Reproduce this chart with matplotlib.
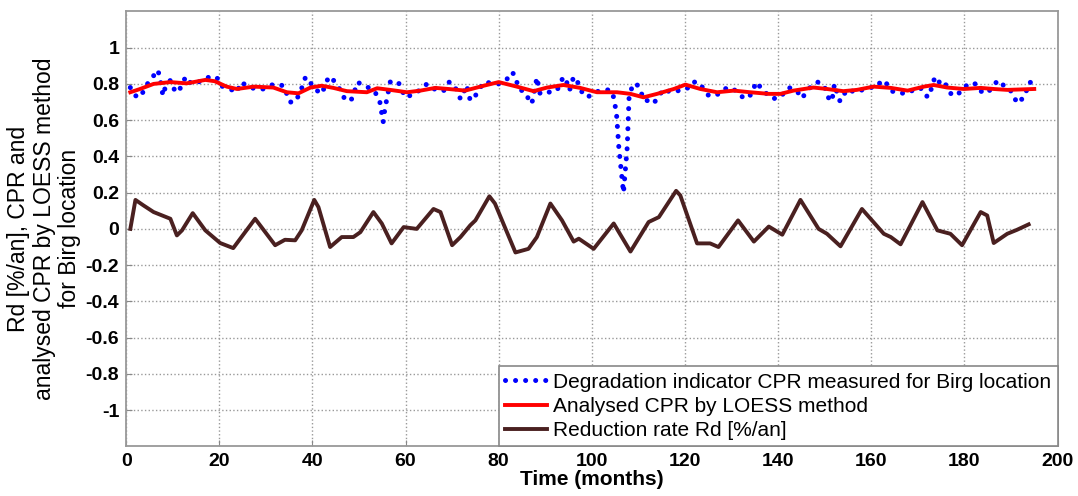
import numpy as np
from matplotlib import pyplot as plt

plt.rcParams['font.family'] = ['Liberation Sans', 'DejaVu Sans']

# measured CPR (blue dotted)
cpr_t = [0.9, 2, 3, 4.8, 5.9, 6.8, 7.3, 7.9, 8.4, 9.5, 10.5, 11.2, 12.8, 14, 15.5, 18, 19.5,
         20.2, 21.6, 23.8, 24.7, 25.9, 27.7, 29.5, 31.8, 33.8, 34.5, 35.2, 36.3, 37.4, 38.5,
         39.2, 39.9, 41, 42, 43.5, 44.2, 45.3, 46.4, 47, 48.5, 49.7, 51, 52.8, 54, 54.6, 54.9,
         55.2, 55.6, 56, 56.7, 57.4, 58.7, 59.9, 62, 64.6, 66.7, 68.2, 69.3, 70.3, 71.8, 72.5,
         73.1, 73.9, 75, 76.8, 80, 81.8, 82.6, 83.3, 83.9, 84.3, 85.7, 86.4, 87.1, 87.9, 88.2,
         88.9, 92.5, 93.9, 94.6, 95.2, 96.1, 97.2, 97.9, 99, 100.8, 102.2, 104, 104.7, 105.3,
         105.8, 106.8, 107.6, 108, 108.6, 109.5, 110.4, 111.2, 112.6, 113.3, 114.7, 115.5,
         116.9, 120.4, 121.5, 122.9, 124, 125.1, 126.9, 128.3, 130.1, 131.5, 132.9, 134.4,
         135.1, 135.5, 136.6, 137.6, 138.7, 140.1, 141.2, 142.3, 144, 145.1, 145.8, 147.3,
         148.5, 149.8, 150.5, 151.1, 151.6, 152.1, 152.7, 153.3, 154, 155.2, 156.3, 159.9,
         161.3, 162.2, 163.1, 164.2, 165.5, 167.8, 169.9, 171, 172.1, 172.8, 173.2, 173.9,
         174.6, 175.6, 176.3, 177.4, 178.8, 181, 182.4, 183.5, 184.9, 187.2, 188.5, 189.5,
         190.6, 191.3, 192.8, 194, 195]
cpr_v = [0.78, 0.735, 0.726, 0.81, 0.845, 0.877, 0.83, 0.735, 0.78, 0.82, 0.76, 0.754, 0.84,
         0.80, 0.81, 0.84, 0.836, 0.79, 0.78, 0.754, 0.81, 0.79, 0.772, 0.772, 0.80, 0.79,
         0.745, 0.70, 0.70, 0.754, 0.836, 0.83, 0.79, 0.763, 0.745, 0.84, 0.833, 0.79, 0.754,
         0.708, 0.717, 0.81, 0.79, 0.772, 0.735, 0.69, 0.635, 0.59, 0.67, 0.717, 0.81, 0.82,
         0.80, 0.726, 0.745, 0.80, 0.763, 0.763, 0.81, 0.80, 0.717, 0.754, 0.794, 0.708,
         0.735, 0.81, 0.80, 0.827, 0.864, 0.855, 0.81, 0.772, 0.754, 0.717, 0.69, 0.79, 0.836,
         0.745, 0.763, 0.84, 0.81, 0.763, 0.84, 0.80, 0.754, 0.726, 0.754, 0.767, 0.767,
         0.726, 0.635, 0.45, 0.20, 0.45, 0.726, 0.78, 0.805, 0.767, 0.708, 0.708, 0.693,
         0.745, 0.772, 0.754, 0.772, 0.81, 0.81, 0.772, 0.735, 0.74, 0.772, 0.78, 0.745,
         0.717, 0.745, 0.80, 0.81, 0.763, 0.745, 0.72, 0.72, 0.748, 0.78, 0.763, 0.72, 0.745,
         0.794, 0.81, 0.794, 0.748, 0.704, 0.712, 0.80, 0.748, 0.704, 0.74, 0.772, 0.754,
         0.78, 0.785, 0.82, 0.81, 0.763, 0.75, 0.748, 0.78, 0.772, 0.726, 0.763, 0.81, 0.84,
         0.81, 0.82, 0.778, 0.735, 0.748, 0.805, 0.80, 0.76, 0.748, 0.82, 0.79, 0.78, 0.735,
         0.693, 0.726, 0.81, 0.80]

# LOESS curve (red)
loess_t = [0.9, 3, 5.9, 9.5, 13, 17, 19, 21.6, 23.8, 27.4, 31.6, 34.5, 37, 39.6, 42, 44.5,
           47.4, 51.7, 53.9, 56.7, 60.3, 63.2, 66.4, 69.2, 72.8, 76.8, 80, 83.9, 87.5, 90.4,
           93.9, 97.5, 101.1, 105.4, 108.3, 111.1, 114, 117.6, 120.1, 123.3, 126.9, 130.5,
           134, 138, 140.5, 143.3, 147.6, 150.5, 154, 156.9, 160.5, 164.2, 167.8, 171.3,
           173.4, 176.3, 179.9, 183.5, 186.3, 189.2, 195]
loess_v = [0.754, 0.772, 0.80, 0.81, 0.803, 0.822, 0.815, 0.785, 0.772, 0.785, 0.78, 0.754,
           0.748, 0.78, 0.79, 0.778, 0.76, 0.754, 0.776, 0.767, 0.754, 0.763, 0.778, 0.772,
           0.763, 0.79, 0.81, 0.785, 0.76, 0.78, 0.794, 0.778, 0.754, 0.754, 0.745, 0.726,
           0.745, 0.772, 0.796, 0.772, 0.754, 0.763, 0.754, 0.745, 0.745, 0.763, 0.78, 0.772,
           0.76, 0.767, 0.785, 0.778, 0.763, 0.785, 0.794, 0.78, 0.772, 0.778, 0.772, 0.767,
           0.772]

# reduction rate Rd (brown)
rd_t = [0.9, 2, 3.7, 5.9, 9.5, 10.9, 12, 14.3, 17, 20.2, 23, 27.7, 32, 34.1, 36.3, 37.7,
        40.4, 41.3, 43.8, 46.3, 48.8, 50.3, 53.1, 54.9, 57, 59.6, 62.4, 66, 67.5, 70, 71.8,
        73.9, 75, 78, 79.2, 83.6, 86.4, 88.2, 91.1, 93.6, 96.1, 97.2, 100.4, 104.7, 108.3,
        112.2, 114.4, 118.1, 119, 122.6, 125.4, 127.2, 131.4, 134.8, 138, 140.9, 144.8,
        148.7, 150.5, 153.4, 158, 162.7, 164.2, 166.3, 171, 174.2, 177, 179.5, 183.5, 184.9,
        186.3, 189.2, 191.3, 193.8]
rd_v = [0.0, 0.16, 0.13, 0.093, 0.056, -0.036, -0.008, 0.087, -0.008, -0.078, -0.106, 0.056,
        -0.09, -0.06, -0.063, -0.008, 0.16, 0.12, -0.1, -0.045, -0.045, -0.018, 0.093, 0.03,
        -0.08, 0.01, 0.0, 0.11, 0.093, -0.09, -0.045, 0.02, 0.047, 0.18, 0.14, -0.13, -0.11,
        -0.045, 0.14, 0.047, -0.07, -0.054, -0.11, 0.03, -0.125, 0.038, 0.065, 0.21, 0.185,
        -0.08, -0.08, -0.1, 0.047, -0.07, 0.013, -0.032, 0.16, 0.0, -0.027, -0.096, 0.11,
        -0.027, -0.045, -0.085, 0.148, -0.008, -0.027, -0.09, 0.093, 0.074, -0.078, -0.027,
        -0.005, 0.025]

fig = plt.figure(figsize=(10.78, 4.96), dpi=100)
ax = fig.add_axes([0.117, 0.1, 0.864, 0.877])

ax.plot(cpr_t, cpr_v, color='#0000ff', lw=3.6, linestyle=(0, (0.01, 2.0)),
        dash_capstyle='round', label='Degradation indicator CPR measured for Birg location')
ax.plot(loess_t, loess_v, color='#ff0000', lw=2.8, solid_joinstyle='round',
        label='Analysed CPR by LOESS method')
ax.plot(rd_t, rd_v, color='#4a2020', lw=2.8, solid_joinstyle='round',
        label='Reduction rate Rd [%/an]')

ax.set_xlim(0, 200)
ax.set_ylim(-1.2, 1.2)
ax.set_xticks(np.arange(0, 201, 20))
yt = np.round(np.arange(-1, 1.01, 0.2), 1)
ax.set_yticks(yt)
ax.set_yticklabels(['0' if v == 0 else ('%g' % v) for v in yt])
ax.grid(True, linestyle=':', color='#999999', lw=1)
ax.tick_params(direction='in', length=4, color='#888888', labelsize=14, pad=5)
for lab in ax.get_xticklabels() + ax.get_yticklabels():
    lab.set_fontweight('bold')
for s in ax.spines.values():
    s.set_color('#999999')
    s.set_linewidth(1.3)

ax.set_xlabel('Time (months)', fontsize=15, fontweight='bold', labelpad=0)
ax.set_ylabel('Rd [%/an], CPR and\nanalysed CPR by LOESS method\nfor Birg location',
              fontsize=16.5, linespacing=1.15, labelpad=3)

leg = ax.legend(loc='lower right', borderaxespad=0, fontsize=15, handlelength=2.0,
                handletextpad=0.3, labelspacing=0.25, fancybox=False, framealpha=1,
                borderpad=0.3)
leg.get_frame().set_edgecolor('#888888')
leg.get_frame().set_linewidth(1.2)

plt.savefig('out.png')
